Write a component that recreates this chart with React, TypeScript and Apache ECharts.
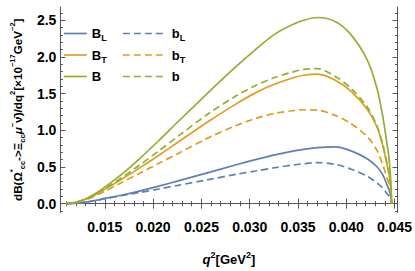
import React, { useEffect, useRef } from "react";
import * as echarts from "echarts";

const q2 = [0.011, 0.012, 0.013, 0.014, 0.015, 0.0167, 0.0187, 0.0206, 0.0226, 0.0256, 0.0286, 0.0306, 0.0326, 0.0346, 0.0356, 0.037, 0.0389, 0.0405, 0.0422, 0.0432, 0.0438, 0.0442, 0.0444, 0.0445, 0.0446, 0.0447];

const BL = [0, 0.007, 0.022, 0.044, 0.072, 0.115, 0.175, 0.24, 0.31, 0.42, 0.53, 0.6, 0.665, 0.72, 0.74, 0.765, 0.775, 0.72, 0.61, 0.5, 0.39, 0.26, 0.2, 0.16, 0.1, 0];
const BT = [0, 0.018, 0.06, 0.12, 0.195, 0.33, 0.495, 0.66, 0.84, 1.11, 1.36, 1.51, 1.63, 1.72, 1.75, 1.765, 1.68, 1.53, 1.28, 1.04, 0.78, 0.54, 0.42, 0.34, 0.22, 0];
const B = [0, 0.02, 0.065, 0.135, 0.225, 0.395, 0.625, 0.862, 1.12, 1.5, 1.87, 2.1, 2.31, 2.45, 2.5, 2.537, 2.48, 2.3, 1.95, 1.56, 1.17, 0.83, 0.64, 0.5, 0.32, 0];
const bL = [0, 0.007, 0.021, 0.042, 0.068, 0.108, 0.155, 0.2, 0.25, 0.325, 0.4, 0.445, 0.49, 0.53, 0.545, 0.56, 0.535, 0.47, 0.37, 0.28, 0.21, 0.14, 0.11, 0.09, 0.06, 0];
const bT = [0, 0.016, 0.052, 0.105, 0.17, 0.285, 0.42, 0.55, 0.685, 0.89, 1.065, 1.16, 1.23, 1.27, 1.28, 1.275, 1.2, 1.09, 0.91, 0.72, 0.52, 0.36, 0.28, 0.22, 0.15, 0];
const b = [0, 0.02, 0.063, 0.125, 0.205, 0.35, 0.535, 0.72, 0.92, 1.215, 1.47, 1.61, 1.72, 1.8, 1.83, 1.84, 1.73, 1.57, 1.31, 1.05, 0.79, 0.56, 0.43, 0.35, 0.22, 0];

const xMajor = [0.015, 0.02, 0.025, 0.03, 0.035, 0.04, 0.045];
const xMinor = [0.011, 0.012, 0.013, 0.014, 0.016, 0.017, 0.018, 0.019, 0.021, 0.022, 0.023, 0.024, 0.026, 0.027, 0.028, 0.029, 0.031, 0.032, 0.033, 0.034, 0.036, 0.037, 0.038, 0.039, 0.041, 0.042, 0.043, 0.044];
const yMajor = [0, 0.5, 1, 1.5, 2, 2.5];
const yMinor = [-0.1, 0.1, 0.2, 0.3, 0.4, 0.6, 0.7, 0.8, 0.9, 1.1, 1.2, 1.3, 1.4, 1.6, 1.7, 1.8, 1.9, 2.1, 2.2, 2.3, 2.4, 2.6];

const BLUE = "#5E81B5";
const ORANGE = "#E19C24";
const GREEN = "#8FB032";
const FONT = "Liberation Sans";
const FRAME = "#555";

const seriesDefs = [
  { name: "B_L", data: BL, color: BLUE, dashed: false },
  { name: "B_T", data: BT, color: ORANGE, dashed: false },
  { name: "B", data: B, color: GREEN, dashed: false },
  { name: "b_L", data: bL, color: BLUE, dashed: true },
  { name: "b_T", data: bT, color: ORANGE, dashed: true },
  { name: "b", data: b, color: GREEN, dashed: true },
];

const legendLabels: Record<string, string> = {
  B_L: "{t|B}{sub|L}",
  B_T: "{t|B}{sub|T}",
  B: "{t|B}",
  b_L: "{t|b}{sub|L}",
  b_T: "{t|b}{sub|T}",
  b: "{t|b}",
};

const rich = {
  t: { fontSize: 13, fontWeight: "bold", fontFamily: FONT, color: "#000", lineHeight: 18 },
  sub: { fontSize: 9, fontWeight: "bold", fontFamily: FONT, color: "#000", lineHeight: 10, verticalAlign: "bottom" },
  sup: { fontSize: 9, fontWeight: "bold", fontFamily: FONT, color: "#000", lineHeight: 10, verticalAlign: "top" },
  i: { fontSize: 13, fontWeight: "bold", fontStyle: "italic", fontFamily: FONT, color: "#000", lineHeight: 18 },
};

const yRich = {
  t: { fontSize: 11.7, fontWeight: "bold", fontFamily: FONT, color: "#000", lineHeight: 18 },
  i: { fontSize: 11.7, fontWeight: "bold", fontStyle: "italic", fontFamily: FONT, color: "#000", lineHeight: 18 },
  sub: { fontSize: 7.5, fontWeight: "bold", fontFamily: FONT, color: "#000", lineHeight: 9, verticalAlign: "bottom" },
  sup: { fontSize: 7.5, fontWeight: "bold", fontFamily: FONT, color: "#000", lineHeight: 9, verticalAlign: "top" },
};

function xAxisDef(pos: "bottom" | "top", major: boolean) {
  return {
    type: "value",
    position: pos,
    min: 0.0104,
    max: 0.0453,
    gridIndex: 0,
    axisLine: { show: major, lineStyle: { color: FRAME, width: 1 } },
    axisTick: {
      show: true,
      inside: true,
      length: major ? 5 : 2.5,
      customValues: major ? xMajor : xMinor,
      lineStyle: { color: FRAME, width: 1 },
    },
    axisLabel: {
      show: major && pos === "bottom",
      customValues: xMajor,
      formatter: (v: number) => v.toFixed(3),
      fontSize: 14,
      fontWeight: "bold",
      fontFamily: FONT,
      color: "#000",
      margin: 7,
    },
    splitLine: { show: false },
    ...(major && pos === "bottom"
      ? {
          name: "{i|q}{sup|2}{t|[GeV}{sup|2}{t|]}",
          nameLocation: "middle",
          nameGap: 38,
          nameTextStyle: { rich },
        }
      : {}),
  };
}

function yAxisDef(pos: "left" | "right", major: boolean) {
  return {
    type: "value",
    position: pos,
    min: -0.12,
    max: 2.68,
    gridIndex: 0,
    axisLine: { show: major, lineStyle: { color: FRAME, width: 1 } },
    axisTick: {
      show: true,
      inside: true,
      length: major ? 5 : 2.5,
      customValues: major ? yMajor : yMinor,
      lineStyle: { color: FRAME, width: 1 },
    },
    axisLabel: {
      show: major && pos === "left",
      customValues: yMajor,
      formatter: (v: number) => v.toFixed(1),
      fontSize: 14,
      fontWeight: "bold",
      fontFamily: FONT,
      color: "#000",
      margin: 4,
    },
    splitLine: { show: false },
    ...(major && pos === "left"
      ? {
          name:
            "{t|dB(Ω}{sup|*}{sub|cc}{t|->Ξ}{sub|cc}{i|μ}{sup|−}{t|ν̄)/dq}{sup|2}{t|[×10}{sup|−17}{t|GeV}{sup|−2}{t|]}",
          nameLocation: "middle",
          nameRotate: 90,
          nameGap: 32,
          nameTextStyle: { rich: yRich },
        }
      : {}),
  };
}

export default function App() {
  const ref = useRef<HTMLDivElement>(null);
  useEffect(() => {
    document.body.style.margin = "0";
    if (!ref.current) return;
    const chart = echarts.init(ref.current, null, { renderer: "svg" });
    const legendCommon = {
      orient: "vertical",
      top: 22,
      itemHeight: 12,
      itemGap: 6,
      formatter: (name: string) => legendLabels[name],
      textStyle: { fontSize: 13, fontWeight: "bold", fontFamily: FONT, color: "#000", rich },
      itemStyle: { opacity: 0 },
      lineStyle: { width: 1.7 },
      selectedMode: false,
    };
    chart.setOption({
      animation: false,
      backgroundColor: "#fff",
      grid: { left: 47, right: 17, top: 7, bottom: 48, containLabel: false },
      legend: [
        { ...legendCommon, left: 58, itemWidth: 23, data: ["B_L", "B_T", "B"] },
        { ...legendCommon, left: 117, itemWidth: 44, data: ["b_L", "b_T", "b"] },
      ],
      xAxis: [xAxisDef("bottom", true), xAxisDef("bottom", false), xAxisDef("top", true), xAxisDef("top", false)],
      yAxis: [yAxisDef("left", true), yAxisDef("left", false), yAxisDef("right", true), yAxisDef("right", false)],
      series: seriesDefs.map((s) => ({
        name: s.name,
        type: "line",
        xAxisIndex: 0,
        yAxisIndex: 0,
        data: q2.map((q, i) => [q, s.data[i]]),
        symbol: "none",
        showSymbol: false,
        smooth: 0.3,
        color: s.color,
        lineStyle: { color: s.color, width: 1.7, type: s.dashed ? [7, 4] : "solid" },
        itemStyle: { color: s.color },
      })),
    });
    return () => chart.dispose();
  }, []);
  return <div ref={ref} style={{ width: 415, height: 271 }} />;
}
